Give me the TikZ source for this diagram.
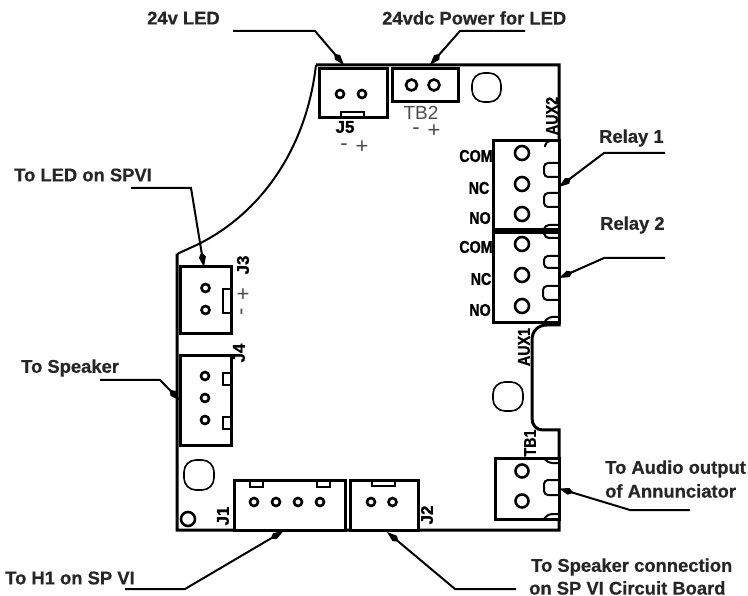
\documentclass[tikz,border=0pt]{standalone}
\usepackage{fontspec}
\setmainfont{Liberation Sans}
\newfontfamily\calloutfont{Liberation Sans}[BoldFeatures={FakeBold=0.5}]
\newfontfamily\silkfont{Liberation Sans}[BoldFeatures={FakeBold=1.2}]
\usetikzlibrary{arrows.meta}
\definecolor{labelink}{gray}{0.15}
\definecolor{silkgray}{gray}{0.3}
\tikzset{
  x=1pt,y=-1pt,
  board/.style={draw=black,line width=3pt,line join=miter},
  conn/.style={draw=black,line width=3pt,fill=white,rectangle,inner sep=0pt,outer sep=0pt},
  pinhole/.style={draw=black,line width=2.6pt,circle,inner sep=0pt,outer sep=0pt},
  tabline/.style={draw=black,line width=2pt,rounded corners=4pt},
  tabbox/.style={draw=black,line width=2pt},
  hole/.style={draw=black,line width=1.6pt,rounded corners=12pt},
  leader/.style={draw=black,line width=2pt,-{Kite[length=15pt,width=7pt,inset=5pt]}},
  callout/.style={font=\fontsize{18.4pt}{22pt}\calloutfont\bfseries,text=labelink,inner sep=0pt,anchor=west},
  silk/.style={font=\fontsize{17pt}{17pt}\silkfont\bfseries,inner sep=0pt},
  thinsilk/.style={font=\fontsize{19pt}{19pt}\selectfont,text=silkgray,inner sep=0pt},
  polarity/.style={font=\fontsize{22pt}{22pt}\selectfont,text=silkgray,inner sep=0pt},
}
\newcommand{\cad}[1]{\scalebox{0.84}[1]{#1}}
\begin{document}
\begin{tikzpicture}
\useasboundingbox (0,0) rectangle (748,596);
% board outline
\draw[board] (316,65) -- (559,65) -- (559,325) -- (547,325)
  .. controls (538,325) and (532,331) .. (532,340) -- (532,418)
  .. controls (532,425) and (536,430) .. (543,430) -- (559,430) -- (559,530) -- (177,530) -- (177,254);
\draw[line width=2pt] (177,254) -- (190,248) .. controls (250,222) and (305,160) .. (316,65);
% connectors
\node[conn,minimum width=68pt,minimum height=49pt] (j5) at (353,93.5) {};
\node[conn,minimum width=66pt,minimum height=33pt] (tb2) at (425,85.5) {};
\node[conn,minimum width=66pt,minimum height=89pt] (rl1) at (526,185) {};
\node[conn,minimum width=66pt,minimum height=90pt] (rl2) at (526,278) {};
\node[conn,minimum width=51pt,minimum height=67pt] (j3) at (205.5,300.5) {};
\node[conn,minimum width=51pt,minimum height=89pt] (j4) at (205.5,400.5) {};
\node[conn,minimum width=111pt,minimum height=50pt] (j1) at (289.5,505) {};
\node[conn,minimum width=68pt,minimum height=50pt] (j2) at (384,505) {};
\node[conn,minimum width=64pt,minimum height=61pt] (tb1) at (527,488.5) {};
% pins
\foreach \n/\px/\py/\d in {p1/340/94/8,p2/362/94/8,p3/411.5/85/11,p4/434/85/11,
  p5/522/153/14,p6/522/184/14,p7/522/214/14,p8/522/244/14,p9/522/275/14,p10/522/306/14,
  p11/205.5/288/8,p12/205.5/310/8,p13/205/376/8,p14/205/398/8,p15/205/420/8,
  p16/254/502/8,p17/276/502/8,p18/298/502/8,p19/320/502/8,p20/371/502/8,p21/392.5/502/8,
  p22/522/471/13,p23/522/501/13,p24/188/519/14}{
  \node[pinhole,minimum size=\d pt] (\n) at (\px,\py) {};
}
% tabs
\draw[tabbox] (341,118) rectangle (364,112);
\draw[tabbox] (223,289) rectangle (231,313);
\draw[tabbox] (223,373) rectangle (231,385);
\draw[tabbox] (223,417) rectangle (231,429);
\draw[tabbox] (250,481) rectangle (263,487);
\draw[tabbox] (317,481) rectangle (330,487);
\draw[tabbox] (372,481) rectangle (395,486);
\draw[tabline] (559,141) -- (546,141) -- (545,147);
\draw[tabline] (559,163) -- (544,163) -- (544,177) -- (559,177);
\draw[tabline] (559,193) -- (544,193) -- (544,207) -- (559,207);
\draw[tabline] (559,225) -- (545,225) -- (544,229);
\draw[tabline] (559,238) -- (545,238) -- (544,233);
\draw[tabline] (559,256) -- (544,256) -- (544,268) -- (559,268);
\draw[tabline] (559,286) -- (543,286) -- (543,300) -- (559,300);
\draw[tabline] (559,317) -- (548,317) -- (544,323);
\draw[tabline] (559,463) -- (548,463) -- (544,458);
\draw[tabline] (559,480) -- (544,480) -- (544,495) -- (559,495);
\draw[tabline] (559,514) -- (548,514) -- (544,519);
% mounting holes
\draw[hole] (472,73) rectangle (501,102);
\draw[hole] (493,382) rectangle (523,411);
\draw[hole] (184,460) rectangle (214,490);
% silkscreen
\node[silk] (lj5) at (345,127) {J5};
\node[thinsilk] (ltb2) at (421,113) {TB2};
\node[polarity] (mj5) at (344,147) {-};
\node[polarity] (pj5) at (362,147) {+};
\node[polarity] (mtb2) at (416,131) {-};
\node[polarity] (ptb2) at (434,131) {+};
\node[polarity,rotate=90] (pj3) at (244,294) {+};
\node[polarity,rotate=90] (mj3) at (244,312) {-};
\node[silk,rotate=90] (lj3) at (243,265) {J3};
\node[silk,rotate=90] (lj4) at (239,353) {J4};
\node[silk,rotate=90] (lj1) at (223,516) {J1};
\node[silk,rotate=90] (lj2) at (427,515) {J2};
\node[silk,rotate=90] (laux2) at (552,116) {\cad{AUX2}};
\node[silk,rotate=90] (laux1) at (524,347) {\cad{AUX1}};
\node[silk,rotate=90] (ltb1) at (530,443) {\cad{TB1}};
\node[silk] (c1) at (476,156) {\cad{COM}};
\node[silk] (n1) at (479,188) {\cad{NC}};
\node[silk] (o1) at (480,218) {\cad{NO}};
\node[silk] (c2) at (476,247) {\cad{COM}};
\node[silk] (n2) at (481,279) {\cad{NC}};
\node[silk] (o2) at (480,310) {\cad{NO}};
% callout texts
\node[callout] (t24v) at (147,18) {24v LED};
\node[callout] (t24p) at (382,18) {24vdc Power for LED};
\node[callout] (tled) at (14,175) {To LED on SPVI};
\node[callout] (tspk) at (21,368) {To Speaker};
\node[callout] (tr1) at (599,138) {Relay 1};
\node[callout] (tr2) at (600,225) {Relay 2};
\node[callout] (taud) at (605,469) {To Audio output};
\node[callout] (tann) at (605,491) {of Annunciator};
\node[callout] (th1) at (5,578) {To H1 on SP VI};
\node[callout] (tsc) at (531,567) {To Speaker connection};
\node[callout] (tsb) at (529,588) {on SP VI Circuit Board};
% leader free ends
\coordinate (e1) at (233,31);
\coordinate (e2) at (525,31);
\coordinate (e3) at (131,188);
\coordinate (e4) at (100,380);
\coordinate (e5) at (665,153);
\coordinate (e6) at (665,258);
\coordinate (e7) at (690,510);
\coordinate (e8) at (125,589);
\coordinate (e9) at (516,589);
% leaders
\draw[leader] (e1) -- (315,31) -- ([shift={(-9,-4)}]j5.north);
\draw[leader] (e2) -- (460,31) -- ([shift={(5,-4)}]tb2.north);
\draw[leader] (e3) -- (191,188) -- ([xshift=-1.5pt]j3.north);
\draw[leader] (e4) -- (160,380) -- (j4.west);
\draw[leader] (e5) -- (604,153) -- ([yshift=-2pt]rl1.east);
\draw[leader] (e6) -- (604,258) -- (rl2.east);
\draw[leader] (e7) -- (630,510) -- (tb1.east);
\draw[leader] (e8) -- (185,589) -- ([shift={(-6,1)}]j1.south);
\draw[leader] (e9) -- (455,589) -- ([shift={(3,2)}]j2.south);
\end{tikzpicture}
\end{document}
